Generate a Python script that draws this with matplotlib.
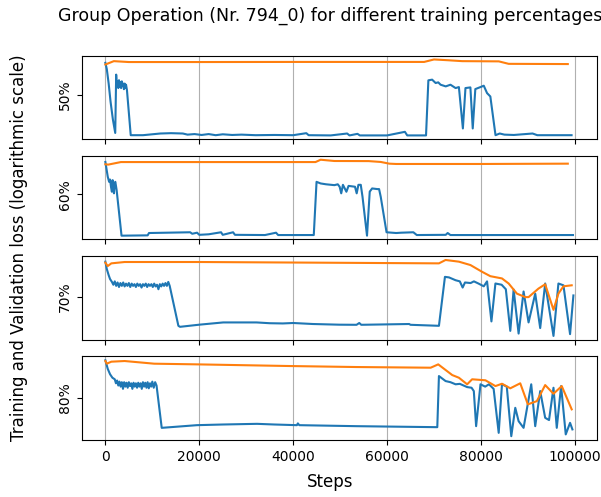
import numpy as np
import matplotlib
matplotlib.use("Agg")
import matplotlib.pyplot as plt
from matplotlib.ticker import NullLocator

# ---------------- data (log10 of loss) ----------------
percentages = ["50%", "60%", "70%", "80%"]

# 50 %
train_x_50 = [0, 300, 700, 1100, 1600, 2100, 2300, 2450, 2600, 2750, 2900, 3050, 3200, 3350, 3500, 3650, 3800,
              3950, 4100, 4250, 4400, 4600, 5400, 8000, 11700, 14000, 16500, 17500, 19000, 20500, 22000, 23500,
              25000, 27000, 29000, 32000, 36000, 40000, 42800, 43300, 48000, 51500, 52000, 53700, 54200, 60000,
              63800, 64300, 68300, 68800, 69600, 70350, 70900, 71400, 72500, 73500, 74600, 75300, 76150, 76700,
              77750, 78250, 78800, 79900, 80600, 81300, 82000, 83100, 84000, 85000, 87000, 91000, 92000, 99300]
train_y_50 = [0.85, 0.3, -1.0, -2.6, -4.2, -5.4, -0.2, -1.3, -0.8, -1.4, -0.7, -1.3, -0.9, -1.4, -0.8, -1.2, -1.0,
              -1.5, -1.0, -1.4, -1.1, -1.6, -5.6, -5.6, -5.45, -5.42, -5.45, -5.55, -5.5, -5.58, -5.5, -5.6,
              -5.52, -5.58, -5.55, -5.6, -5.58, -5.6, -5.42, -5.6, -5.62, -5.45, -5.62, -5.48, -5.62, -5.62,
              -5.3, -5.62, -5.62, -0.71, -0.65, -0.95, -0.89, -1.1, -1.25, -1.1, -1.4, -1.31, -5.0, -1.4,
              -1.34, -5.0, -1.49, -1.31, -1.19, -1.85, -2.15, -5.6, -5.45, -5.55, -5.58, -5.45, -5.6, -5.6]
val_x_50 = [0, 1800, 5000, 20000, 40000, 60000, 67900, 70000, 73000, 76000, 83800, 85900, 98500]
val_y_50 = [0.70, 1.0, 0.92, 0.92, 0.93, 0.93, 0.93, 1.15, 1.08, 1.0, 0.98, 0.76, 0.74]

# 60 %
train_x_60 = [0, 510, 800, 1000, 1200, 1390, 1550, 1700, 1830, 2000, 2120, 2400, 3440, 9000, 9290, 18060, 18500,
              19530, 20000, 22000, 24640, 25000, 27200, 27600, 34000, 36350, 36800, 44390, 44980, 45850, 47000,
              48780, 49500, 49900, 50240, 50600, 51340, 51800, 53170, 53530, 53900, 54400, 54770, 55730, 56310,
              56820, 57920, 58300, 58650, 59890, 61940, 63000, 65600, 66330, 72500, 72910, 73500, 99600]
train_y_60 = [1.05, -0.35, -0.82, -0.6, -1.3, -1.75, -0.66, -1.2, -1.9, -0.9, -0.82, -1.6, -5.88, -5.85, -5.63,
              -5.56, -5.7, -5.6, -5.8, -5.75, -5.56, -5.8, -5.56, -5.8, -5.82, -5.6, -5.82, -5.82, -0.82, -0.97,
              -1.05, -1.13, -1.05, -1.28, -1.9, -1.1, -1.75, -1.2, -1.28, -1.9, -1.1, -1.1, -2.22, -5.88, -1.74,
              -1.44, -1.5, -1.5, -2.22, -5.56, -5.63, -5.6, -5.56, -5.82, -5.8, -5.63, -5.82, -5.82]
val_x_60 = [0, 600, 3300, 20000, 44760, 45850, 48780, 56090, 58650, 60480, 61940, 80000, 98500]
val_y_60 = [0.83, 0.8, 1.04, 1.04, 1.04, 1.26, 1.14, 1.13, 1.05, 0.89, 0.86, 0.86, 0.89]

# 70 %
train_x_70 = [0, 300, 700, 1000, 1400, 1700, 2000, 2300, 2600, 2900, 3200, 3500, 3800, 4100, 4400, 4700, 5000,
              5300, 5600, 5900, 6200, 6500, 6800, 7100, 7400, 7700, 8000, 8300, 8600, 8900, 9200, 9500, 9800,
              10100, 10400, 10700, 11000, 11300, 11600, 11900, 12200, 12500, 12800, 13100, 13400, 13700, 15550,
              15900, 20000, 25100, 32200, 35000, 37800, 40000, 44200, 49800, 53500, 54080, 54500, 64700, 65000,
              71050, 72330, 73200, 74600, 75500, 76100, 76600, 77800, 78500, 79500, 80600, 81300, 82230, 83080,
              84400, 85300, 86250, 86960, 88020, 89080, 90140, 91560, 92620, 93680, 95450, 96500, 97570, 98980,
              99690]
train_y_70 = [1.15, 0.5, -0.05, -0.4, -0.65, -0.9, -0.6, -1.0, -0.7, -1.1, -0.75, -1.0, -0.7, -1.05, -0.8, -1.0,
              -0.75, -1.1, -0.8, -1.0, -0.85, -1.1, -0.8, -1.0, -0.85, -1.15, -0.85, -1.0, -0.8, -1.1, -0.85,
              -1.0, -0.85, -1.1, -0.8, -1.05, -0.9, -1.3, -0.85, -1.05, -0.8, -1.0, -0.75, -1.0, -0.65, -1.0,
              -4.55, -4.64, -4.45, -4.25, -4.25, -4.32, -4.34, -4.3, -4.39, -4.45, -4.46, -4.3, -4.46, -4.39,
              -4.46, -4.55, -0.2, -0.25, -0.5, -0.6, -1.15, -0.7, -0.75, -0.6, -0.8, -1.04, -0.6, -4.16, -0.79,
              -0.9, -1.3, -5.0, -1.33, -5.24, -1.5, -4.25, -1.69, -4.75, -0.79, -5.45, -0.79, -0.95, -5.29, -1.85]
val_x_70 = [0, 500, 1270, 4100, 20000, 50000, 71050, 72470, 75300, 77760, 80240, 82000, 84480, 85900, 87660,
            89430, 90140, 92260, 93680, 95450, 96500, 97570, 99330]
val_y_70 = [1.06, 0.76, 1.0, 1.12, 1.12, 1.05, 1.0, 1.30, 1.15, 0.85, 0.25, -0.14, -0.34, -0.79, -1.69, -2.0,
            -2.0, -1.24, -0.86, -3.13, -1.69, -1.04, -0.95]

# 80 %
train_x_80 = [0, 500, 1000, 1500, 2000, 2250, 2500, 2750, 3000, 3250, 3500, 3750, 4000, 4250, 4500, 4750, 5000,
              5250, 5500, 5750, 6000, 6250, 6500, 6750, 7000, 7250, 7500, 7750, 8000, 8250, 8500, 8750, 9000,
              9250, 9500, 9750, 10000, 10300, 10600, 10900, 12000, 19500, 25000, 32300, 36000, 40800, 41000,
              41300, 53500, 70700, 71050, 72470, 73500, 74600, 75500, 77060, 78000, 78480, 78970, 79900, 80900,
              81700, 82700, 83780, 84480, 85500, 86460, 87310, 88020, 89080, 90710, 91560, 92620, 93680, 94500,
              95450, 96150, 97070, 98060, 98980, 99480]
train_y_80 = [1.37, 0.6, 0.11, -0.2, -0.34, -0.7, -0.45, -0.9, -0.55, -1.0, -0.6, -1.2, -0.6, -1.0, -0.65, -1.1,
              -0.6, -0.95, -0.7, -1.2, -0.65, -1.0, -0.7, -1.1, -0.65, -1.0, -0.7, -1.2, -0.6, -1.0, -0.65, -1.1,
              -0.6, -1.15, -0.7, -1.0, -0.55, -1.1, -0.6, -0.9, -4.7, -4.46, -4.4, -4.34, -4.4, -4.46, -4.3,
              -4.46, -4.55, -4.64, -0.05, -0.5, -0.6, -0.79, -0.75, -1.04, -1.1, -1.4, -4.55, -0.79, -1.0,
              -0.79, -1.2, -5.15, -0.79, -1.0, -5.45, -2.9, -4.1, -4.7, -0.79, -4.55, -1.40, -3.8, -4.0, -1.1,
              -4.7, -0.95, -5.29, -4.25, -4.84]
val_x_80 = [0, 300, 1270, 4100, 10400, 19500, 39300, 53500, 69290, 70900, 73880, 75300, 77060, 78120, 80950,
            83080, 84480, 86250, 88370, 89990, 91910, 93680, 95450, 97210, 99330]
val_y_80 = [1.30, 1.06, 1.24, 1.30, 1.06, 1.0, 0.85, 0.76, 0.7, 1.0, 0.04, -0.2, -0.79, -0.34, -0.43, -0.95,
            -0.74, -1.15, -0.70, -2.59, -2.30, -0.86, -1.64, -0.95, -3.04]

tick_log10 = -2.0  # position of the percentage tick on each log axis

xticks = [0, 20000, 40000, 60000, 80000, 100000]

series = [
    (train_x_50, train_y_50, val_x_50, val_y_50),
    (train_x_60, train_y_60, val_x_60, val_y_60),
    (train_x_70, train_y_70, val_x_70, val_y_70),
    (train_x_80, train_y_80, val_x_80, val_y_80),
]

# ---------------- figure ----------------
fig, axes = plt.subplots(4, 1, sharex=True, figsize=(6.01, 4.97), dpi=100)
fig.subplots_adjust(left=0.1364, right=0.9930, top=0.888, bottom=0.1147, hspace=0.2)

for ax, label, (tx, ty, vx, vy) in zip(axes, percentages, series):
    ax.plot(tx, 10 ** np.array(ty), color="C0", lw=1.5)
    ax.plot(vx, 10 ** np.array(vy), color="C1", lw=1.5)
    ax.set_yscale("log")
    ax.set_yticks([10 ** tick_log10])
    ax.set_yticklabels([label], rotation=90, va="center")
    ax.yaxis.set_minor_locator(NullLocator())
    ax.grid(axis="x")

axes[-1].set_xticks(xticks)
axes[-1].set_xticklabels([str(t) for t in xticks])

fig.text(0.549, 0.968, "Group Operation (Nr. 794_0) for different training percentages",
         ha="center", va="center", fontsize=12.5)
fig.text(0.55, 0.030, "Steps", ha="center", va="center", fontsize=12)
fig.text(0.031, 0.501, "Training and Validation loss (logarithmic scale)",
         ha="center", va="center", rotation=90, fontsize=12)

fig.savefig("out.png", dpi=100)
